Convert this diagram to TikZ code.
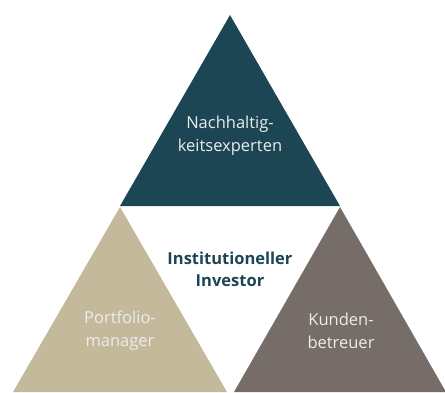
\documentclass[tikz,border=0pt]{standalone}
\usepackage{fontspec}
\setmainfont{Open Sans}
\usepackage{tikz}
\usetikzlibrary{positioning}
\definecolor{petrol}{HTML}{1C4653}
\definecolor{sand}{HTML}{C4B99A}
\definecolor{taupe}{HTML}{766D68}
\definecolor{pale}{HTML}{ECECEC}
\tikzstyle{tlabel} = [align=center, text=pale, font=\fontsize{16.5}{23}\selectfont]
\tikzstyle{clabel} = [align=center, text=petrol, font=\fontsize{16.5}{22}\selectfont\bfseries]

\begin{document}
\begin{tikzpicture}[x=1pt, y=-1pt]
			\useasboundingbox (0,0) rectangle (445,392);

			\coordinate (top) at (230, 15);
			\coordinate (tl) at (120, 206);
			\coordinate (tr) at (340, 206);
			\coordinate (l) at (120, 207);
			\coordinate (r) at (340, 207);

			\fill [petrol] (top) -- (tl) -- (tr) -- cycle;
			\fill [sand] (l) -- (13, 392) -- (227, 392) -- cycle;
			\fill [taupe] (r) -- (234, 392) -- (446, 392) -- cycle;

			\node [tlabel] (experts) at (230, 136) {Nachhaltig-\\keitsexperten};
			\node [tlabel] (pm) at (120, 331) {Portfolio-\\manager};
			\node [tlabel] (kb) at (341, 331) {Kunden-\\betreuer};
			\node [clabel] (investor) at (230, 269) {Institutioneller\\Investor};
		\end{tikzpicture}
\end{document}
